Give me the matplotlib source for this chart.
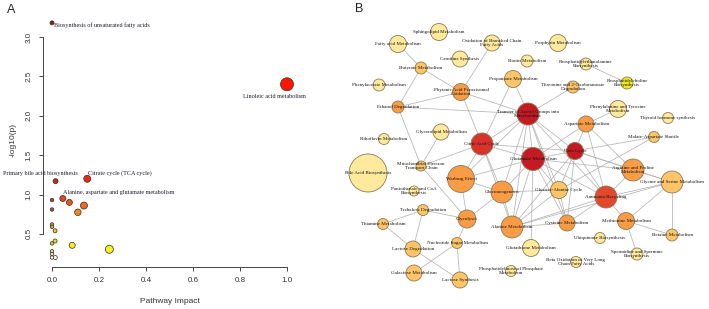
import matplotlib
matplotlib.use('Agg')
import matplotlib.pyplot as plt
from matplotlib.patches import Circle

# ── panel A: pathway impact vs -log10(p) ─────────────────────────────────────
IMPACT = [0.0, 1.0, 0.15, 0.015, 0.046, 0.074, 0.136, 0.11, 0.0, 0.0,
          0.0, 0.0, 0.013, 0.013, 0.0, 0.086, 0.244, 0.0, 0.0, 0.0, 0.014]
LOGP = [3.18, 2.40, 1.20, 1.17, 0.95, 0.90, 0.86, 0.775, 0.93, 0.81,
        0.62, 0.59, 0.54, 0.41, 0.38, 0.355, 0.305, 0.28, 0.245, 0.20, 0.20]
PT_COLOR = ['#8B1A1A', '#FF1500', '#E82A10', '#C8281C', '#E0461E', '#EC561A',
            '#EE6A1A', '#F2881C', '#9A4A3C', '#9A5A3C', '#BFA043', '#C8A843',
            '#E6CC22', '#E6DE22', '#D6CE40', '#F4EE20', '#F6F222', '#D8D890',
            '#E6E6C0', '#F4F4E4', '#FFFFF4']
PT_DIAM = [4, 13, 7, 5, 6, 6, 7, 6.5, 3.5, 3.5, 3.5, 3.5, 4, 4, 3.5, 6, 8,
           3.5, 3.5, 3.5, 4]   # marker diameter in pixels

A_LABELS = ['Biosynthesis of unsaturated fatty acids', 'Linoleic acid metabolism',
            'Citrate cycle (TCA cycle)', 'Primary bile acid biosynthesis',
            'Alanine, aspartate and glutamate metabolism']
A_LAB_X = [0.01, 0.945, 0.153, -0.049, 0.047]
A_LAB_Y = [3.15, 2.24, 1.27, 1.27, 1.02]
A_LAB_HA = ['left', 'center', 'left', 'center', 'left']

# ── panel B: pathway network (layout coordinates, y grows downward) ─────────
NODE_KEYS = ['sphingo', 'fatty', 'oxbranch', 'carnitine', 'porphyrin', 'biotin',
             'pe', 'butyrate', 'propanoate', 'phenylacetate', 'threonine', 'pc',
             'phytanic', 'ethanol', 'transfer', 'phetyr', 'thyroid', 'aspartate',
             'glycerolipid', 'riboflavin', 'malate', 'cac', 'urea', 'glutamate',
             'etc', 'bile', 'arginine', 'warburg', 'glyser', 'pantothenate',
             'gluconeo', 'glucala', 'ammonia', 'trehalose', 'glycolysis',
             'thiamine', 'methionine', 'cysteine', 'alanine', 'betaine',
             'ubiquinone', 'nucsugar', 'glutathione', 'lacdeg', 'spermidine',
             'betaox', 'pip', 'galactose', 'lacsyn']
NODE_LABELS = ['Sphingolipid Metabolism', 'Fatty acid Metabolism',
               'Oxidation of Branched Chain\nFatty Acids', 'Carnitine Synthesis',
               'Porphyrin Metabolism', 'Biotin Metabolism',
               'Phosphatidylethanolamine\nBiosynthesis', 'Butyrate Metabolism',
               'Propanoate Metabolism', 'Phenylacetate Metabolism',
               'Threonine and 2-Oxobutanoate\nDegradation',
               'Phosphatidylcholine\nBiosynthesis',
               'Phytanic Acid Peroxisomal\nOxidation', 'Ethanol Degradation',
               'Transfer of Acetyl Groups into\nMitochondria',
               'Phenylalanine and Tyrosine\nMetabolism', 'Thyroid hormone synthesis',
               'Aspartate Metabolism', 'Glycerolipid Metabolism',
               'Riboflavin Metabolism', 'Malate-Aspartate Shuttle',
               'Citric Acid Cycle', 'Urea Cycle', 'Glutamate Metabolism',
               'Mitochondrial Electron\nTransport Chain', 'Bile Acid Biosynthesis',
               'Arginine and Proline\nMetabolism', 'Warburg Effect',
               'Glycine and Serine Metabolism', 'Pantothenate and CoA\nBiosynthesis',
               'Gluconeogenesis', 'Glucose-Alanine Cycle', 'Ammonia Recycling',
               'Trehalose Degradation', 'Glycolysis', 'Thiamine Metabolism',
               'Methionine Metabolism', 'Cysteine Metabolism', 'Alanine Metabolism',
               'Betaine Metabolism', 'Ubiquinone Biosynthesis',
               'Nucleotide Sugar Metabolism', 'Glutathione Metabolism',
               'Lactose Degradation', 'Spermidine and Spermine\nBiosynthesis',
               'Beta Oxidation of Very Long\nChain Fatty Acids',
               'Phosphatidylinositol Phosphate\nMetabolism', 'Galactose Metabolism',
               'Lactose Synthesis']
NODE_X = [439, 398, 492, 460, 558, 527, 586, 421, 513, 379, 573, 627, 461, 398,
          528, 618, 668, 586, 441, 384, 654, 482, 575, 533, 421, 368, 633, 461,
          672, 414, 502, 559, 606, 423, 467, 383, 626, 567, 512, 672, 600, 457,
          531, 413, 637, 576, 511, 414, 460]
NODE_Y = [32, 44, 43, 59, 43, 61, 64, 68, 79, 85, 87, 83, 92, 107, 114, 109, 118,
          124, 132, 139, 137, 144, 151, 159, 166, 173, 170, 179, 182, 191, 192,
          190, 197, 210, 219, 224, 221, 223, 227, 235, 238, 243, 248, 249, 254,
          262, 271, 273, 280]
NODE_R = [8.5, 8.5, 8, 8, 8.5, 6, 6, 6, 8.5, 6, 6, 6, 8.5, 6, 11, 8.5, 5.5, 8,
          8, 5.5, 5.5, 11, 8.5, 11.5, 5, 19, 11, 13.5, 11, 5, 11, 8.5, 11, 5.5,
          9, 5.5, 8.5, 8, 11, 6, 5.5, 5.5, 8.5, 8, 6, 5.5, 5.5, 8, 8]
NODE_LEVEL = ['ly', 'ly', 'ly', 'ly', 'ly', 'ly', 'ly', 'lo', 'lo', 'ly', 'lo',
              'y', 'o', 'o', 'dr', 'ly', 'ly', 'o', 'ly', 'ly', 'lo', 'r', 'dr',
              'dr', 'lo', 'ly', 'o', 'o', 'lo', 'ly', 'o', 'lo', 'ro', 'lo', 'o',
              'lo', 'o', 'o', 'o', 'lo', 'ly', 'lo', 'ly', 'lo', 'ly', 'ly', 'ly',
              'lo', 'lo']
EDGES = [('fatty', 'butyrate'), ('butyrate', 'ethanol'), ('butyrate', 'phytanic'),
         ('ethanol', 'phytanic'), ('ethanol', 'transfer'), ('ethanol', 'etc'),
         ('phytanic', 'oxbranch'), ('phytanic', 'cac'), ('phytanic', 'transfer'),
         ('propanoate', 'cac'), ('propanoate', 'transfer'),
         ('threonine', 'transfer'), ('pe', 'pc'), ('phetyr', 'aspartate'),
         ('glycerolipid', 'etc'), ('etc', 'cac'), ('etc', 'glycolysis'),
         ('transfer', 'cac'), ('transfer', 'glutamate'), ('transfer', 'urea'),
         ('transfer', 'gluconeo'), ('transfer', 'glucala'), ('transfer', 'alanine'),
         ('transfer', 'ammonia'), ('transfer', 'warburg'), ('transfer', 'cysteine'),
         ('cac', 'warburg'), ('cac', 'gluconeo'), ('cac', 'glutamate'),
         ('cac', 'urea'), ('cac', 'alanine'), ('glutamate', 'urea'),
         ('glutamate', 'warburg'), ('glutamate', 'gluconeo'),
         ('glutamate', 'alanine'), ('glutamate', 'glucala'),
         ('glutamate', 'ammonia'), ('glutamate', 'arginine'),
         ('glutamate', 'glutathione'), ('glutamate', 'cysteine'),
         ('glutamate', 'aspartate'), ('urea', 'ammonia'), ('urea', 'arginine'),
         ('urea', 'aspartate'), ('urea', 'glucala'), ('urea', 'alanine'),
         ('urea', 'cysteine'), ('urea', 'malate'), ('urea', 'glyser'),
         ('malate', 'glucala'), ('aspartate', 'ammonia'), ('aspartate', 'arginine'),
         ('warburg', 'gluconeo'), ('warburg', 'glycolysis'),
         ('gluconeo', 'glycolysis'), ('gluconeo', 'alanine'),
         ('gluconeo', 'glucala'), ('glycolysis', 'trehalose'),
         ('glycolysis', 'nucsugar'), ('trehalose', 'thiamine'),
         ('trehalose', 'lacdeg'), ('thiamine', 'lacdeg'), ('lacdeg', 'lacsyn'),
         ('galactose', 'nucsugar'), ('nucsugar', 'lacsyn'), ('alanine', 'cysteine'),
         ('alanine', 'ammonia'), ('alanine', 'glucala'), ('alanine', 'glyser'),
         ('cysteine', 'ammonia'), ('cysteine', 'glucala'), ('ammonia', 'arginine'),
         ('ammonia', 'glyser'), ('ammonia', 'methionine'), ('methionine', 'glyser'),
         ('methionine', 'betaine'), ('methionine', 'spermidine'),
         ('glyser', 'betaine'), ('arginine', 'glyser')]

LEVEL_COLORS = {'dr': '#C41A24', 'r': '#D8322A', 'ro': '#E2492C', 'o': '#F99C45',
                'lo': '#FDC468', 'ly': '#FEE99C', 'y': '#EEEA1C'}

W, H = 709, 309
fig = plt.figure(figsize=(W / 100, H / 100), dpi=100)

# ── panel A ──────────────────────────────────────────────────────────────────
ax = fig.add_axes([42.6 / W, 42 / H, 253.8 / W, 253.6 / H])
ax.scatter(IMPACT, LOGP, s=[(d * 0.72) ** 2 for d in PT_DIAM], c=PT_COLOR,
           edgecolors='#3a2a20', linewidths=0.5, zorder=3, clip_on=False)
for t, x, y, ha in zip(A_LABELS, A_LAB_X, A_LAB_Y, A_LAB_HA):
    ax.text(x, y, t, ha=ha, va='center', fontsize=4.4,
            family='Liberation Serif', color='#1a1a2a', clip_on=False)
ax.set_xlim(-0.04, 1.04)
ax.set_ylim(0.08, 3.30)
for s in ('top', 'right'):
    ax.spines[s].set_visible(False)
ax.spines['left'].set_bounds(0.5, 3.0)
ax.spines['bottom'].set_bounds(0.0, 1.0)
for s in ('left', 'bottom'):
    ax.spines[s].set_linewidth(0.7)
    ax.spines[s].set_color('#444444')
ax.set_xticks([0.0, 0.2, 0.4, 0.6, 0.8, 1.0])
ax.set_yticks([0.5, 1.0, 1.5, 2.0, 2.5, 3.0])
ax.tick_params(length=3, width=0.7, color='#444444', labelsize=5.8,
               labelcolor='#333333', pad=4)
for lab in ax.get_yticklabels():
    lab.set_rotation(90)
    lab.set_va('center')
ax.set_xlabel('Pathway Impact', fontsize=6, color='#333333', labelpad=10,
              family='Liberation Sans')
ax.set_ylabel('-log10(p)', fontsize=6, color='#333333', labelpad=7,
              family='Liberation Sans')
for lab in ax.get_xticklabels() + ax.get_yticklabels():
    lab.set_family('Liberation Sans')
fig.text(7 / W, 1 - 10 / H, 'A', fontsize=9, ha='left', va='center',
         family='Liberation Sans', color='#222222')

# ── panel B ──────────────────────────────────────────────────────────────────
bx = fig.add_axes([340 / W, 0, (W - 340) / W, 1])
bx.set_xlim(340, W)
bx.set_ylim(H, 0)
bx.set_aspect('equal')
bx.axis('off')
pos = {k: (x, y) for k, x, y in zip(NODE_KEYS, NODE_X, NODE_Y)}
for a, b in EDGES:
    bx.plot([pos[a][0], pos[b][0]], [pos[a][1], pos[b][1]],
            color='#B4B4B4', lw=0.55, zorder=1)
for k, lab, x, y, r, lv in zip(NODE_KEYS, NODE_LABELS, NODE_X, NODE_Y, NODE_R,
                                NODE_LEVEL):
    bx.add_patch(Circle((x, y), r, facecolor=LEVEL_COLORS[lv],
                        edgecolor='#8A7A58', lw=0.6, zorder=2))
    bx.text(x, y, lab, ha='center', va='center', fontsize=3.6,
            family='Liberation Serif', color='#111111', linespacing=1.15,
            zorder=3)
fig.text(359 / W, 1 - 9 / H, 'B', fontsize=9, ha='center', va='center',
         family='Liberation Sans', color='#222222')

fig.savefig('out.png', dpi=100)
